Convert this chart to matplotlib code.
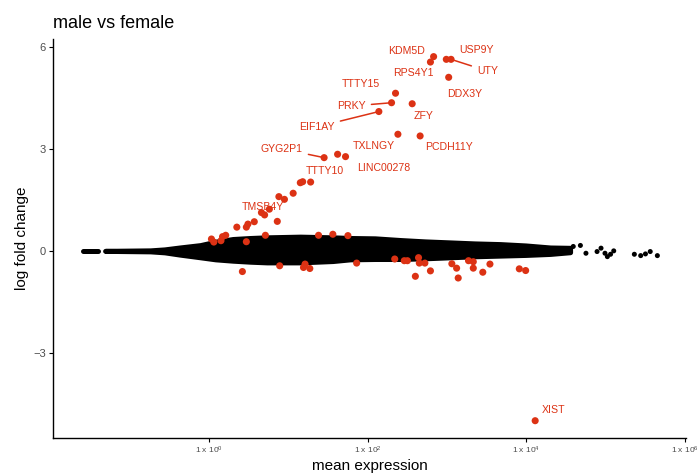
import matplotlib.pyplot as plt
import numpy as np

plt.rcParams['font.family'] = ['Liberation Sans', 'DejaVu Sans']
plt.rcParams['mathtext.fontset'] = 'custom'
plt.rcParams['mathtext.rm'] = 'Liberation Sans'
plt.rcParams['mathtext.it'] = 'Liberation Sans:italic'

# labelled significant genes: log10 mean expression, log fold change
label_genes = ['KDM5D', 'RPS4Y1', 'USP9Y', 'UTY', 'DDX3Y', 'TTTY15', 'PRKY', 'EIF1AY',
               'ZFY', 'TXLNGY', 'PCDH11Y', 'LINC00278', 'GYG2P1', 'TTTY10', 'TMSB4Y', 'XIST']
label_logmean = [2.83, 2.79, 2.99, 3.05, 3.02, 2.35, 2.30, 2.14,
                 2.56, 2.38, 2.66, 1.72, 1.45, 1.28, 0.66, 4.11]
label_lfc = [5.73, 5.57, 5.65, 5.65, 5.12, 4.65, 4.37, 4.11,
             4.34, 3.44, 3.39, 2.78, 2.75, 2.03, 1.13, -5.01]

# other significant genes
sig_logmean = [1.62, 1.15, 1.18, 1.06, 0.88, 0.95, 0.70, 0.76, 0.57, 0.49, 0.47, 0.35,
               0.86, 0.21, 0.17, 0.03, 0.06, 0.15, 0.47, 0.71, 1.38, 1.56, 1.75, 0.42,
               0.89, 1.21, 1.19, 1.27, 1.86, 2.34, 2.46, 2.50, 2.64, 2.65, 2.72, 2.60,
               2.79, 3.06, 3.12, 3.14, 3.27, 3.33, 3.33, 3.45, 3.54, 3.91, 3.99]
sig_lfc = [2.85, 2.01, 2.04, 1.70, 1.60, 1.52, 1.06, 1.23, 0.86, 0.79, 0.70, 0.70,
           0.87, 0.46, 0.42, 0.35, 0.26, 0.30, 0.27, 0.46, 0.46, 0.49, 0.45, -0.61,
           -0.44, -0.39, -0.49, -0.52, -0.36, -0.24, -0.29, -0.29, -0.20, -0.36, -0.36, -0.75,
           -0.59, -0.38, -0.51, -0.80, -0.29, -0.32, -0.51, -0.63, -0.39, -0.53, -0.58]

# non-significant genes: dense cloud described by its envelope
low_logmean = [-1.59, -1.40]
cloud_logmean = [-1.31, -0.74, -0.56, -0.37, -0.11, 0.08, 0.30, 0.52, 0.73, 1.15, 1.56,
                 1.78, 2.09, 2.41, 2.72, 3.04, 3.35, 3.67, 3.99, 4.30, 4.55]
cloud_top = [0.0, 0.015, 0.044, 0.10, 0.17, 0.27, 0.35, 0.38, 0.40, 0.42, 0.40,
             0.38, 0.37, 0.32, 0.28, 0.25, 0.22, 0.20, 0.16, 0.10, 0.09]
cloud_bottom = [0.0, -0.015, -0.044, -0.11, -0.19, -0.25, -0.29, -0.32, -0.34, -0.34, -0.30,
                -0.25, -0.24, -0.24, -0.22, -0.19, -0.16, -0.14, -0.12, -0.09, -0.04]
# sparse high-expression genes
ns_logmean = [4.59, 4.68, 4.75, 4.89, 4.94, 4.99, 5.02, 5.06, 5.10, 5.36, 5.44, 5.50, 5.56, 5.65]
ns_lfc = [0.13, 0.16, -0.07, -0.02, 0.08, -0.07, -0.17, -0.10, 0.0, -0.10, -0.14, -0.09, -0.02, -0.14]

# label placement (offset in points) and whether a segment is drawn
label_offsets = [(-19.7, 4.1), (-12.2, -7.7), (21.5, 6.7), (26.1, -8.4), (11.7, -12.0),
                 (-25.3, 6.7), (-28.8, -2.4), (-44.4, -11.0), (8.1, -8.6), (-17.4, -8.4),
                 (20.5, -7.9), (27.7, -8.1), (-30.4, 6.3), (10.2, 8.1), (1.1, 4.1), (13.3, 7.9)]
label_segment = ['UTY', 'PRKY', 'EIF1AY', 'GYG2P1']

red = '#dc3214'

fig = plt.figure(figsize=(6.99, 4.75), dpi=100)
ax = fig.add_axes([0.0758, 0.0779, 0.9055, 0.84])

# black cloud
ax.plot(10 ** np.array(low_logmean), [0, 0], color='black', lw=3.6, solid_capstyle='round')
ax.fill_between(10 ** np.array(cloud_logmean), cloud_bottom, cloud_top,
                facecolor='black', edgecolor='black', lw=3.6, joinstyle='round')
ax.scatter(10 ** np.array(ns_logmean), ns_lfc, s=13, c='black', edgecolors='none')

# significant
ax.scatter(10 ** np.array(sig_logmean), sig_lfc, s=26, c=red, edgecolors='none', zorder=3)
ax.scatter(10 ** np.array(label_logmean), label_lfc, s=26, c=red, edgecolors='none', zorder=3)

for name, lx, ly, off in zip(label_genes, label_logmean, label_lfc, label_offsets):
    arrow = None
    if name in label_segment:
        arrow = dict(arrowstyle='-', color=red, lw=1.1, shrinkA=2, shrinkB=0)
    ax.annotate(name, (10 ** lx, ly), xytext=off, textcoords='offset points',
                ha='center', va='center', fontsize=7.6, color=red, arrowprops=arrow, zorder=4)

ax.set_xscale('log')
ax.set_xlim(10 ** -1.967, 10 ** 6.01)
ax.set_ylim(-5.52, 6.25)
ax.set_xticks([1, 1e2, 1e4, 1e6])
ax.set_xticklabels([r'1 x 10$^{0}$', r'1 x 10$^{2}$', r'1 x 10$^{4}$', r'1 x 10$^{6}$'])
ax.xaxis.set_minor_locator(plt.NullLocator())
ax.set_yticks([-3, 0, 3, 6])
ax.set_yticklabels(['\u22123', '0', '3', '6'])

ax.tick_params(axis='x', labelsize=6, length=3, width=0.8, pad=2, labelcolor='#4d4d4d')
ax.tick_params(axis='y', labelsize=8, length=3, width=0.8, pad=2, labelcolor='#4d4d4d')
for s in ['top', 'right']:
    ax.spines[s].set_visible(False)
for s in ['left', 'bottom']:
    ax.spines[s].set_linewidth(1.0)

ax.set_xlabel('mean expression', fontsize=11)
ax.set_ylabel('log fold change', fontsize=11)
ax.xaxis.set_label_coords(0.5, -0.052)
ax.yaxis.set_label_coords(-0.038, 0.5)
ax.set_title('male vs female', loc='left', fontsize=13, pad=8)

fig.savefig('out.png', dpi=100)
